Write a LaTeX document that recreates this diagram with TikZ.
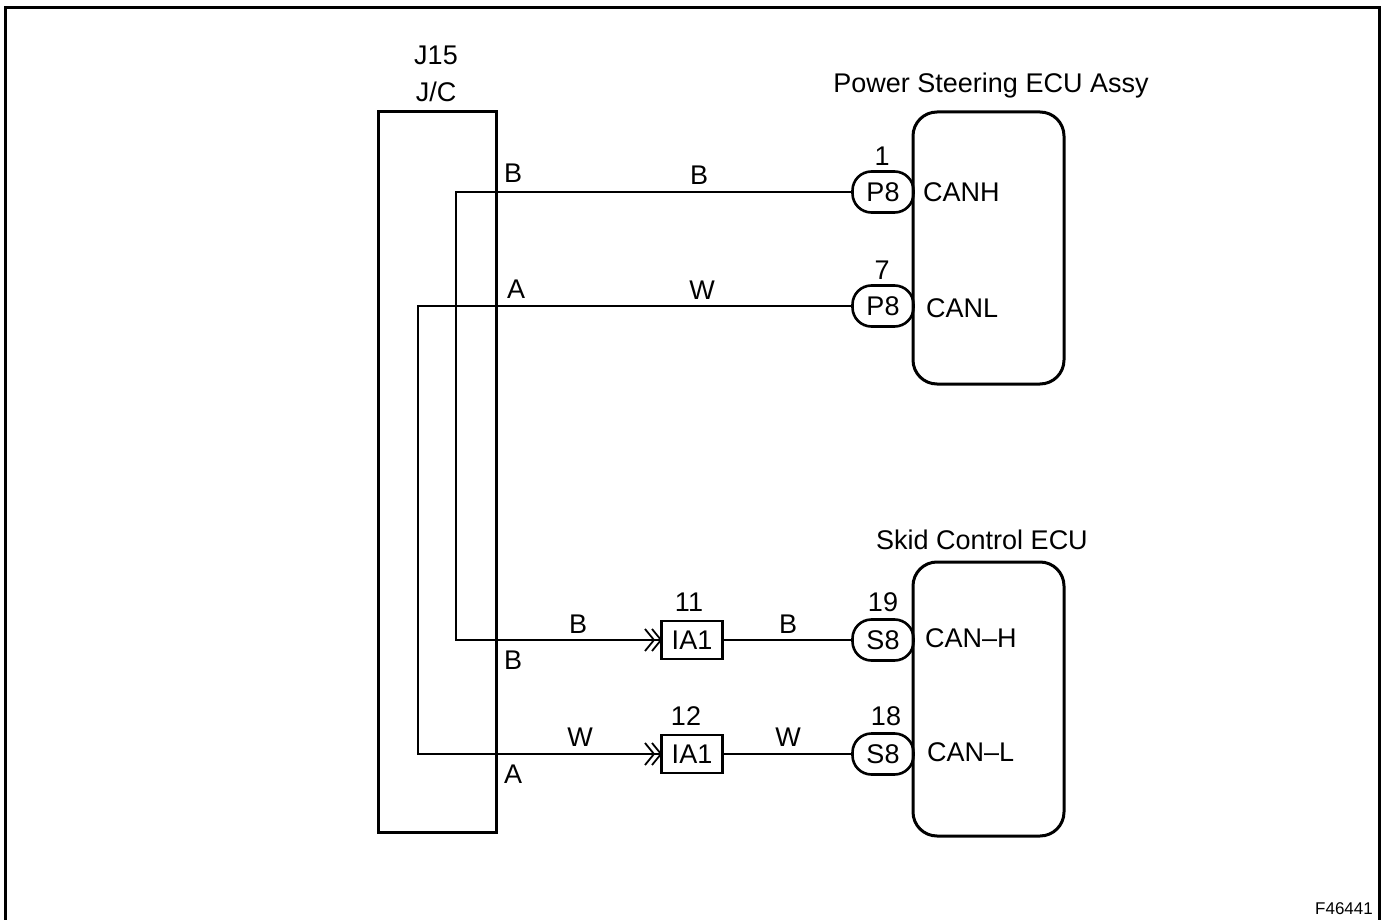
\documentclass[tikz,border=0pt]{standalone}
\usepackage{fontspec}
\setmainfont{Liberation Sans}
\begin{document}
\begin{tikzpicture}[x=1pt,y=-1pt,
  lbl/.style={inner sep=0pt,font=\fontsize{27}{27}\selectfont},
  small/.style={inner sep=0pt,font=\fontsize{17}{17}\selectfont},
  wire/.style={line width=1.5pt},
  thick box/.style={draw,line width=3pt},
  ecu/.style={draw,line width=3pt,rounded corners=24pt},
  pin/.style={draw,line width=2.6pt,rounded corners=19pt,minimum width=61pt,minimum height=41pt,inner sep=0pt,font=\fontsize{27}{27}\selectfont},
  conn/.style={draw,line width=2.6pt,minimum width=61pt,minimum height=38pt,inner sep=0pt,font=\fontsize{27}{27}\selectfont},
  chev/.style={line width=1.8pt}]
\useasboundingbox (0,0) rectangle (1384,920);
% frame
\draw[line width=3pt] (5,925) -- (5,8) -- (1379,8) -- (1379,925);
% J/C box
\draw[thick box] (378,112) rectangle (496,832);
\node[lbl] (j15) at (436,55) {J15};
\node[lbl] (jc) at (436,92) {J/C};
% ECUs
\draw[ecu] (913,112) rectangle (1064,384);
\draw[ecu] (913,562) rectangle (1064,836);
\node[lbl] (pst) at (991,86) {Power Steering ECU Assy};
\node[lbl] (skid) at (982,540) {Skid Control ECU};
% pins
\node[pin] (p1) at (883,192) {P8};
\node[pin] (p7) at (883,306) {P8};
\node[pin] (s19) at (883,640) {S8};
\node[pin] (s18) at (883,754) {S8};
\node[lbl] at (882,156) {1};
\node[lbl] at (882,270) {7};
\node[lbl] at (883,602) {19};
\node[lbl] at (886,716) {18};
\node[lbl,anchor=west] at (923,192) {CANH};
\node[lbl,anchor=west] at (926,308) {CANL};
\node[lbl,anchor=west] at (925,638) {CAN--H};
\node[lbl,anchor=west] at (927,752) {CAN--L};
% IA1 connectors
\node[conn] (ia11) at (692,640) {IA1};
\node[conn] (ia12) at (692,754) {IA1};
\node[lbl] at (689,602) {11};
\node[lbl] at (686,716) {12};
% wires
\coordinate (b1) at (456,192);
\coordinate (b2) at (456,640);
\coordinate (a1) at (418,306);
\coordinate (a2) at (418,754);
\draw[wire] (p1.west) -- (b1) -- (b2) -- (ia11.west);
\draw[wire] (p7.west) -- (a1) -- (a2) -- (ia12.west);
\draw[wire] (ia11.east) -- (s19.west);
\draw[wire] (ia12.east) -- (s18.west);
% chevrons
\foreach \yy in {640,754}{
  \draw[chev] (645,\yy-11) -- (654,\yy) -- (645,\yy+11);
  \draw[chev] (652,\yy-11) -- (661,\yy) -- (652,\yy+11);
}
% wire labels
\node[lbl] at (513,173) {B};
\node[lbl] at (699,175) {B};
\node[lbl] at (516,289) {A};
\node[lbl] at (702,290) {W};
\node[lbl] at (578,624) {B};
\node[lbl] at (788,624) {B};
\node[lbl] at (513,660) {B};
\node[lbl] at (580,737) {W};
\node[lbl] at (788,737) {W};
\node[lbl] at (513,774) {A};
\node[small] at (1344,909) {F46441};
\end{tikzpicture}
\end{document}
